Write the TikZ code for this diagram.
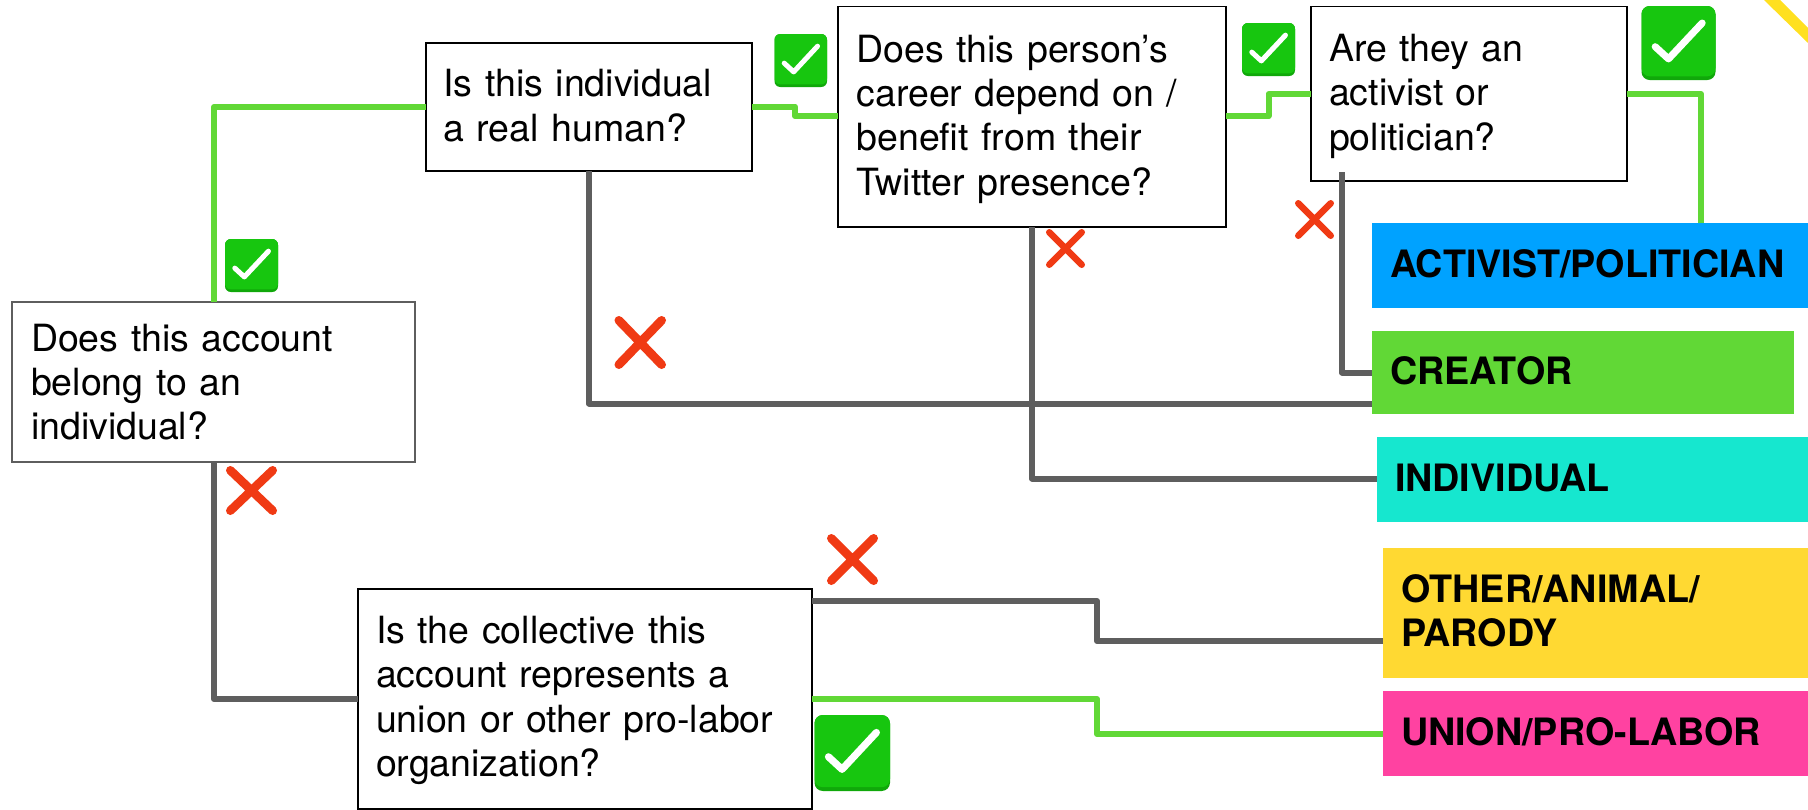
\documentclass[tikz,border=0pt]{standalone}
\usepackage{fontspec}
\setmainfont{TeX Gyre Heros}
\definecolor{cgreen}{HTML}{61D836}
\definecolor{cgrey}{HTML}{5E5E5E}
\definecolor{okmain}{HTML}{17C60F}
\definecolor{okdark}{HTML}{10A80A}
\definecolor{nored}{HTML}{F03A14}
\definecolor{cblue}{HTML}{00A2FF}
\definecolor{cteal}{HTML}{16E7CF}
\definecolor{cyellow}{HTML}{FFD932}
\definecolor{cpink}{HTML}{FF42A1}
\definecolor{cstripe}{HTML}{FFE020}
\tikzset{
  qbox/.style={draw=black,fill=white,line width=1.8pt,anchor=north west,align=left,inner sep=0pt,outer sep=0pt,
    font=\fontsize{37.5}{44.3}\selectfont},
  lab/.style={anchor=north west,align=left,inner sep=0pt,outer sep=0pt,
    font=\fontsize{37.7}{44}\selectfont\bfseries},
  yesline/.style={draw=cgreen,line width=6pt,line join=round},
  noline/.style={draw=cgrey,line width=6pt,line join=round},
  icon/.style={inner sep=0pt,outer sep=0pt},
}
\newcommand{\txtup}[1]{\par\kern#1\relax}
% question box: name, x1, y1, x2, y2, text-left, text
\newcommand{\qnode}[8][]{%
  \pgfmathsetmacro{\qw}{#5-#3}\pgfmathsetmacro{\qh}{#6-#4}\pgfmathsetmacro{\qt}{#5-#3-2*(#7)}%
  \node[qbox,#1,minimum width=\qw pt,minimum height=\qh pt,text width=\qt pt] (#2) at (#3,#4) {#8};}
% outcome label: name, x1, y1, x2, y2, colour, text
\newcommand{\lnode}[7]{%
  \pgfmathsetmacro{\qw}{#4-#2}\pgfmathsetmacro{\qh}{#5-#3}\pgfmathsetmacro{\qt}{#4-#2-36}%
  \node[lab,fill=#6,minimum width=\qw pt,minimum height=\qh pt,text width=\qt pt] (#1) at (#2,#3) {#7\txtup{4pt}};}
% check icon: name, x1, y1, x2, y2
\newcommand{\okmark}[5]{%
  \pgfmathsetmacro{\qw}{#4-#2}\pgfmathsetmacro{\qh}{#5-#3}\pgfmathsetmacro{\qr}{0.11*(#4-#2)}\pgfmathsetmacro{\qm}{0.095*(#4-#2)}%
  \node[icon,fill=okdark,rounded corners=\qr pt,minimum width=\qw pt,minimum height=\qh pt,anchor=north west] (#1) at (#2,#3) {};
  \fill[okmain,rounded corners=\qr pt] (#2,#3) rectangle (#4,#5-0.05*\qh);
  \draw[white,line width=\qm pt,line cap=round,line join=round]
    ($(#1.north west)+(0.185*\qw,0.55*\qh)$) -- ($(#1.north west)+(0.365*\qw,0.715*\qh)$) -- ($(#1.north west)+(0.82*\qw,0.23*\qh)$);}
% cross icon: name, x1, y1, x2, y2
\newcommand{\nomark}[5]{%
  \pgfmathsetmacro{\qw}{#4-#2}\pgfmathsetmacro{\qh}{#5-#3}\pgfmathsetmacro{\qm}{0.17*(#4-#2)}%
  \node[icon,minimum width=\qw pt,minimum height=\qh pt,anchor=north west] (#1) at (#2,#3) {};
  \draw[nored,line width=\qm pt,line cap=round]
    ($(#1.north west)+(0.5*\qm,0.5*\qm)$) -- ($(#1.south east)+(-0.5*\qm,-0.5*\qm)$)
    ($(#1.north east)+(-0.5*\qm,0.5*\qm)$) -- ($(#1.south west)+(0.5*\qm,-0.5*\qm)$);}
\usetikzlibrary{calc}
\begin{document}
\begin{tikzpicture}[x=1pt,y=-1pt]
\useasboundingbox (0,0) rectangle (1808,809);
\fill[white] (0,0) rectangle (1808,809);
\fill[cstripe] (1764,0) -- (1780,0) -- (1808,28) -- (1808,43) -- cycle;
% questions
\qnode[draw=cgrey]{q1}{12}{302}{415}{462}{19}{Does this account\\belong to an\\individual?}
\qnode{q2}{426}{43}{752}{171}{17.5}{Is this individual\\a real human?\txtup{3pt}}
\qnode{q3}{838}{6.5}{1226}{227}{18.5}{Does this person’s\\career depend on /\\benefit from their\\Twitter presence?\txtup{-5pt}}
\qnode{q4}{1311}{6.5}{1627}{181}{18}{Are they an\\activist or\\politician?\txtup{-5pt}}
\qnode{q5}{358}{589}{812}{809}{18}{Is the collective this\\account represents a\\union or other pro-labor\\organization?\txtup{-3pt}}
% outcomes
\lnode{a1}{1372}{223}{1808}{308}{cblue}{ACTIVIST/POLITICIAN}
\lnode{a2}{1372}{331}{1794}{414}{cgreen}{CREATOR}
\lnode{a3}{1377}{437}{1808}{522}{cteal}{INDIVIDUAL}
\lnode{a4}{1383}{548}{1808}{678}{cyellow}{OTHER/ANIMAL/\\PARODY}
\lnode{a5}{1383}{691}{1808}{776}{cpink}{UNION/PRO-LABOR}
% free end inside q4
\coordinate (n4s) at (1342,172);
% yes connectors
\draw[yesline] (q1.north -| 214,0) -- (214,107) -- (q2.west |- 214,107);
\draw[yesline] (q2.east |- 0,106.5) -- (795,106.5) -- (795,116) -- (q3.west |- 0,116);
\draw[yesline] (q3.east |- 0,116) -- (1268.5,116) -- (1268.5,94) -- (q4.west |- 0,94);
\draw[yesline] (q4.east |- 0,94) -- (1701,94) -- (a1.north -| 1701,0);
\draw[yesline] (q5.east |- 0,699) -- (1097,699) -- (1097,734) -- (a5.west |- 0,734);
% no connectors
\draw[noline] (q1.south -| 214,0) -- (214,699) -- (q5.west |- 0,699);
\draw[noline] (q2.south -| 589,0) -- (589,403.5) -- (a2.west |- 0,403.5);
\draw[noline] (q3.south -| 1032,0) -- (1032,478.5) -- (a3.west |- 0,478.5);
\draw[noline] (n4s) -- (1342,372.5) -- (a2.west |- 0,372.5);
\draw[noline] (q5.east |- 0,601) -- (1097,601) -- (1097,641) -- (a4.west |- 0,641);
% marks
\okmark{k1}{225}{239}{278}{292}
\okmark{k2}{774.5}{34}{827}{87}
\okmark{k3}{1242}{23}{1295}{76}
\okmark{k4}{1641.5}{6}{1715.5}{80}
\okmark{k5}{814.5}{715}{890}{791}
\nomark{x1}{226}{466}{277}{515}
\nomark{x2}{614.5}{316}{666}{369}
\nomark{x3}{1046}{229}{1085}{268}
\nomark{x4}{1295}{200}{1334}{239}
\nomark{x5}{827}{534}{878}{585}
\end{tikzpicture}
\end{document}
